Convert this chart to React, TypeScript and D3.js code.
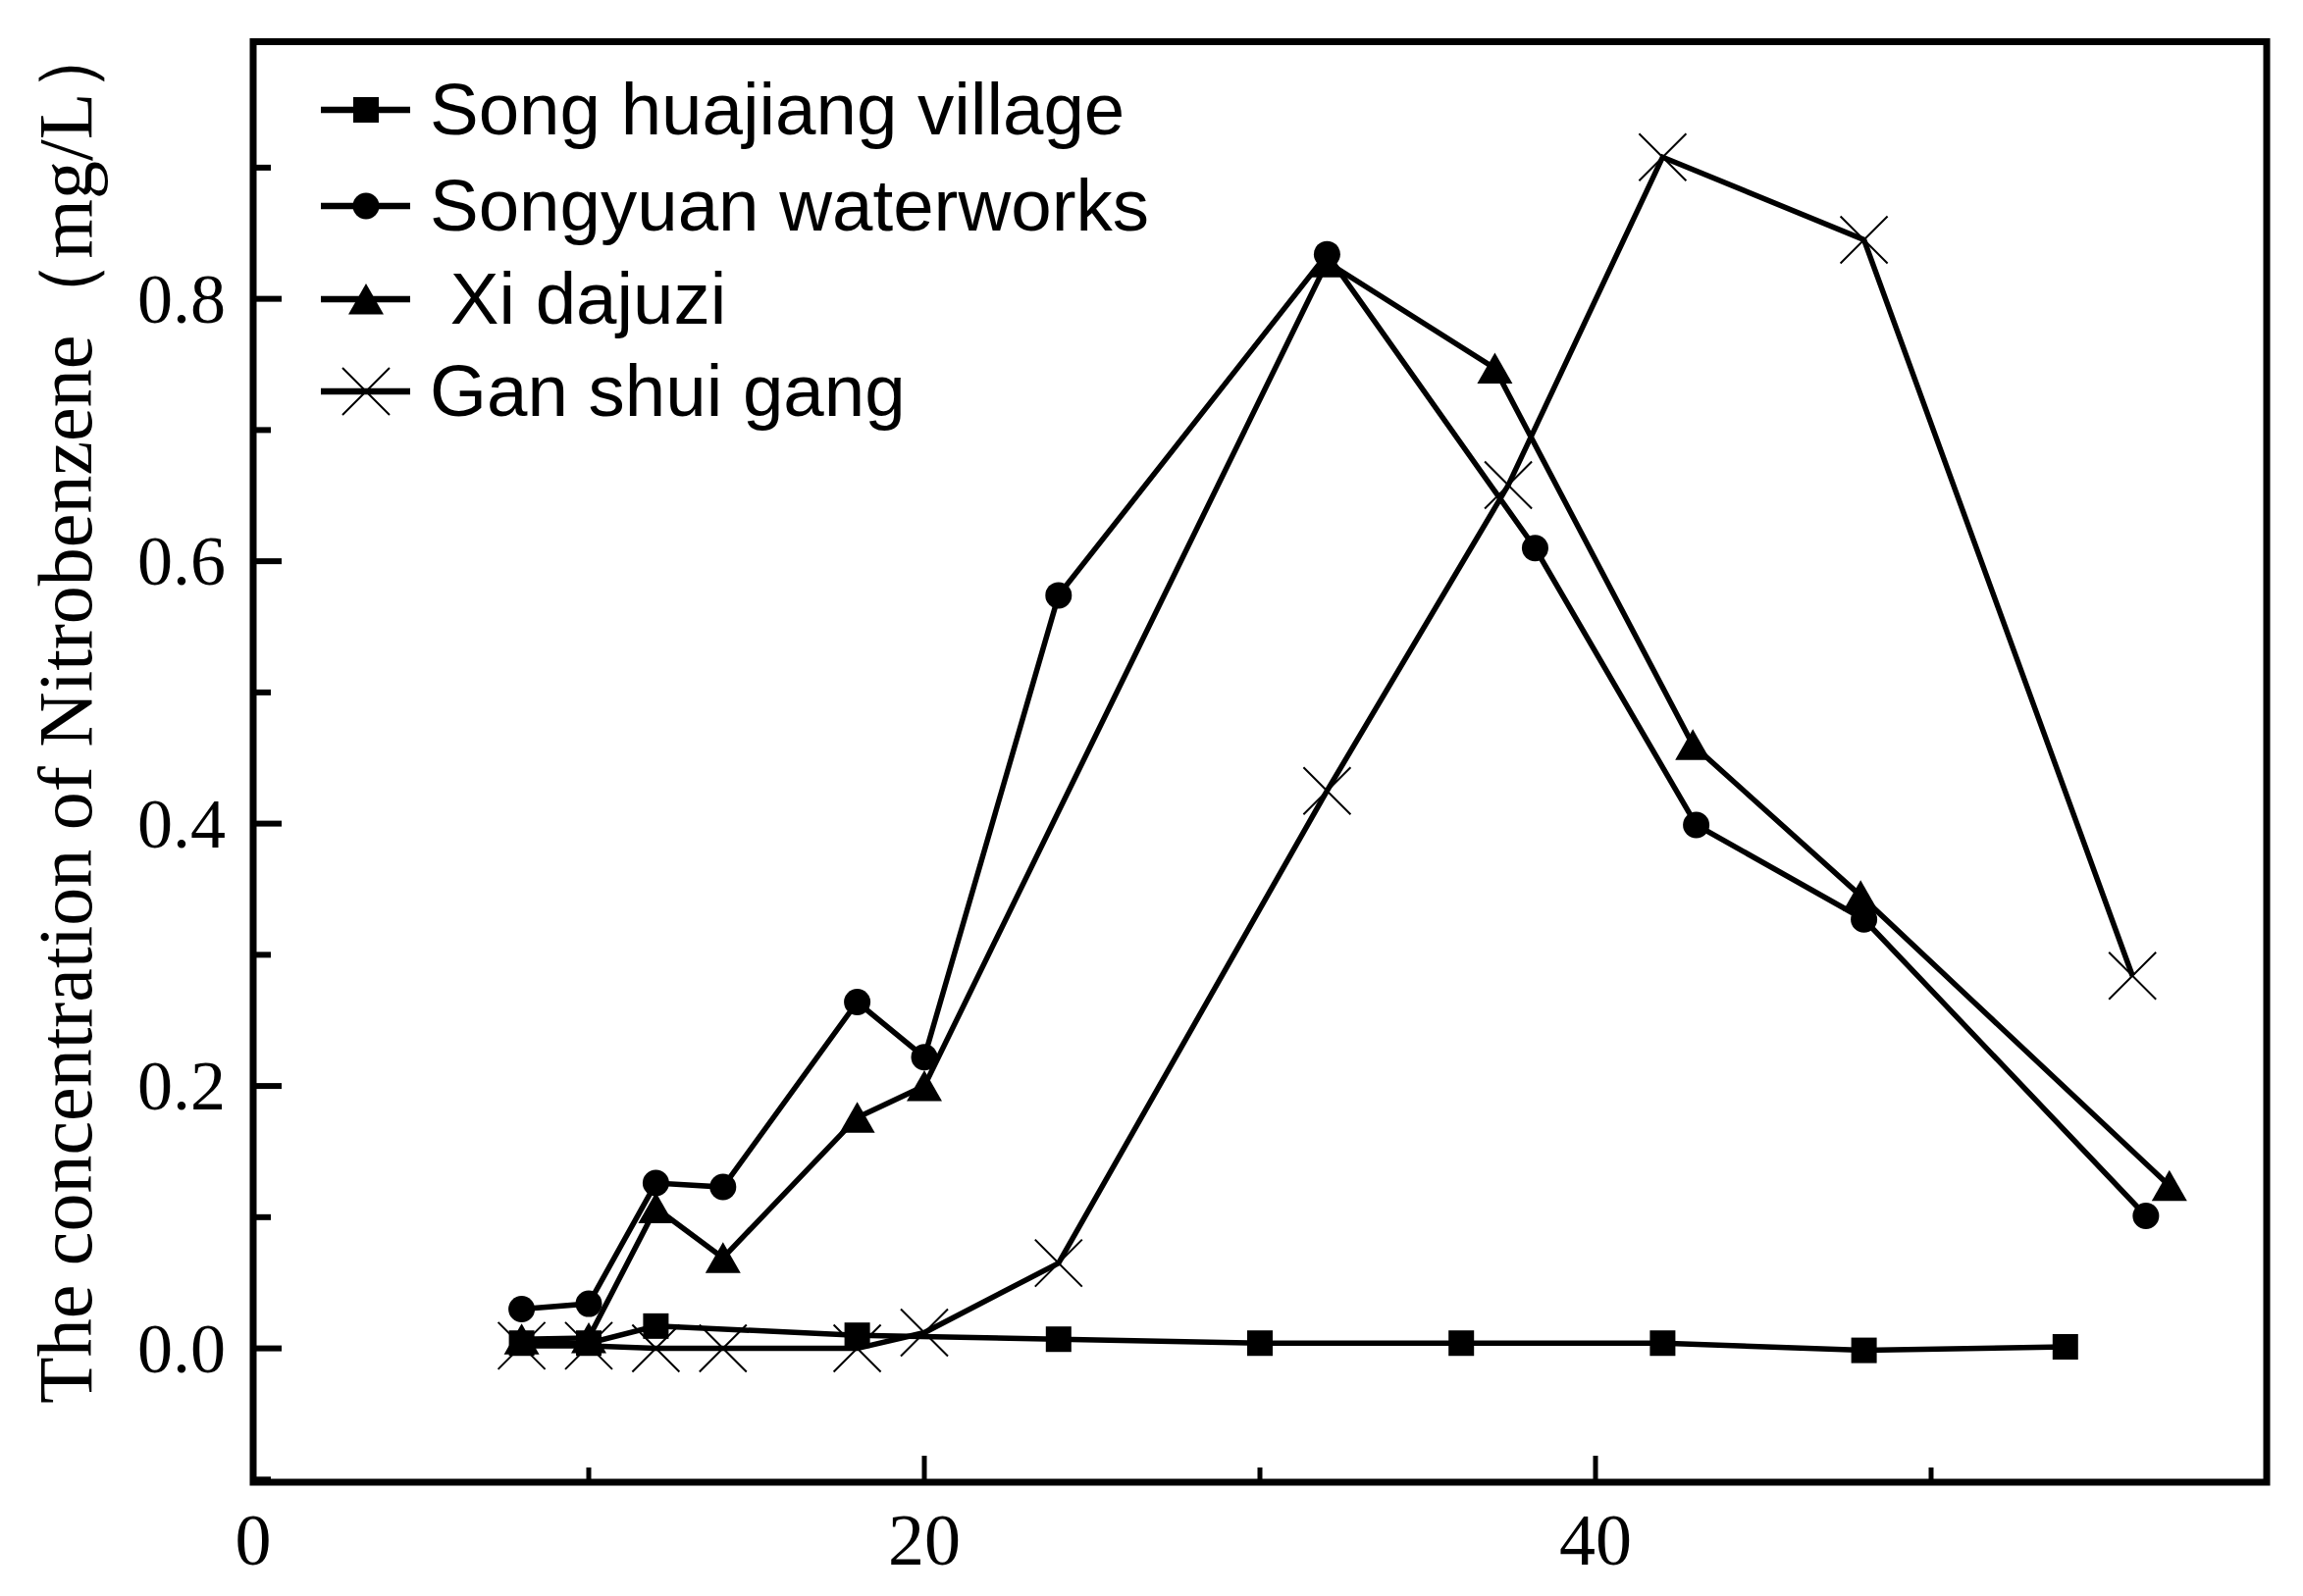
import React from "react";
import * as d3 from "d3";

const W = 2347;
const H = 1627;

const xMajorTicks = [0, 20, 40, 60];
const xMinorTicks = [10, 30, 50];
const xTickLabels = ["0", "20", "40"];
const yMajorTicks = [0, 0.2, 0.4, 0.6, 0.8];
const yMinorTicks = [-0.1, 0.1, 0.3, 0.5, 0.7, 0.9];
const yTickLabels = ["0.0", "0.2", "0.4", "0.6", "0.8"];

const songX = [8, 10, 12, 18, 24, 30, 36, 42, 48, 54];
const songY = [0.004, 0.004, 0.017, 0.01, 0.007, 0.004, 0.004, 0.004, -0.0015, 0.0012];
const songyuanX = [8, 10, 12, 14, 18, 20, 24, 32, 38.2, 43, 48, 56.4];
const songyuanY = [0.03, 0.034, 0.126, 0.123, 0.264, 0.222, 0.574, 0.834, 0.61, 0.399, 0.327, 0.101];
const xiX = [8, 10, 12, 14, 18, 20, 32, 37, 42.9, 47.9, 57.1];
const xiY = [0.007, 0.008, 0.107, 0.069, 0.176, 0.2, 0.828, 0.747, 0.46, 0.345, 0.124];
const ganX = [8, 10, 12, 14, 18, 20, 24, 32, 37.4, 42, 48, 56];
const ganY = [0.002, 0.002, 0, 0, 0, 0.012, 0.065, 0.425, 0.658, 0.908, 0.845, 0.284];

const seriesNames = ["Song huajiang village", "Songyuan waterworks", " Xi dajuzi", "Gan shui gang"];
const seriesMarkers = ["square", "circle", "triangle", "cross"];

const yTitle = "The concentration of Nitrobenzene（mg/L）";

const left = 258;
const right = 2310;
const top = 42.5;
const bottom = 1511;

function Marker({ type, x, y }: { type: string; x: number; y: number }) {
  if (type === "square") {
    return <rect x={x - 13} y={y - 13} width={26} height={26} fill="#000" />;
  }
  if (type === "circle") {
    return <circle cx={x} cy={y} r={13.5} fill="#000" />;
  }
  if (type === "triangle") {
    return (
      <path
        d={`M${x},${y - 16} L${x + 18},${y + 15.5} L${x - 18},${y + 15.5} Z`}
        fill="#000"
      />
    );
  }
  return (
    <path
      d={`M${x - 24},${y - 24} L${x + 24},${y + 24} M${x - 24},${y + 24} L${x + 24},${y - 24}`}
      stroke="#000"
      strokeWidth={2}
      fill="none"
    />
  );
}

export default function App() {
  const xScale = d3.scaleLinear().domain([0, 60]).range([left, right]);
  const yScale = d3.scaleLinear().domain([-0.102, 0.996]).range([bottom, top]);

  const series = [
    { xs: songX, ys: songY, marker: seriesMarkers[0] },
    { xs: songyuanX, ys: songyuanY, marker: seriesMarkers[1] },
    { xs: xiX, ys: xiY, marker: seriesMarkers[2] },
    { xs: ganX, ys: ganY, marker: seriesMarkers[3] },
  ];

  const line = d3
    .line<[number, number]>()
    .x((d) => xScale(d[0]))
    .y((d) => yScale(d[1]));

  const legendRows = [110, 208, 303, 397];

  return (
    <svg
      width={W}
      height={H}
      style={{ position: "absolute", left: 0, top: 0, background: "#fff" }}
    >
      <rect x={0} y={0} width={W} height={H} fill="#fff" />

      {series.map((s, i) => (
        <path
          key={"l" + i}
          d={line(s.xs.map((x, j) => [x, s.ys[j]] as [number, number])) || ""}
          fill="none"
          stroke="#000"
          strokeWidth={5.5}
          strokeLinejoin="miter"
        />
      ))}
      {series.map((s, i) => (
        <g key={"m" + i}>
          {s.xs.map((x, j) => (
            <Marker key={j} type={s.marker} x={xScale(x)} y={yScale(s.ys[j])} />
          ))}
        </g>
      ))}

      <rect
        x={left}
        y={top}
        width={right - left}
        height={bottom - top}
        fill="none"
        stroke="#000"
        strokeWidth={7}
      />

      {xMajorTicks.map((t) => (
        <line
          key={"xM" + t}
          x1={xScale(t)}
          x2={xScale(t)}
          y1={bottom}
          y2={bottom - 27}
          stroke="#000"
          strokeWidth={5}
        />
      ))}
      {xMinorTicks.map((t) => (
        <line
          key={"xm" + t}
          x1={xScale(t)}
          x2={xScale(t)}
          y1={bottom}
          y2={bottom - 15}
          stroke="#000"
          strokeWidth={5}
        />
      ))}
      {xTickLabels.map((lab, i) => (
        <text
          key={"xl" + lab}
          x={xScale(xMajorTicks[i])}
          y={1595}
          textAnchor="middle"
          fontFamily="'Liberation Serif', 'Times New Roman', serif"
          fontSize={74}
          fill="#000"
        >
          {lab}
        </text>
      ))}

      {yMajorTicks.map((t) => (
        <line
          key={"yM" + t}
          x1={left}
          x2={left + 29}
          y1={yScale(t)}
          y2={yScale(t)}
          stroke="#000"
          strokeWidth={6}
        />
      ))}
      {yMinorTicks.map((t) => (
        <line
          key={"ym" + t}
          x1={left}
          x2={left + 18}
          y1={yScale(t)}
          y2={yScale(t)}
          stroke="#000"
          strokeWidth={6}
        />
      ))}
      {yTickLabels.map((lab, i) => (
        <text
          key={"yl" + lab}
          x={230}
          y={yScale(yMajorTicks[i]) + 24}
          textAnchor="end"
          fontFamily="'Liberation Serif', 'Times New Roman', serif"
          fontSize={72}
          fill="#000"
        >
          {lab}
        </text>
      ))}

      <text
        transform={`translate(93, 1431) rotate(-90)`}
        textAnchor="start"
        fontFamily="'Liberation Serif', 'Times New Roman', serif"
        fontSize={78}
        fill="#000"
      >
        {yTitle}
      </text>

      {seriesNames.map((name, i) => (
        <g key={"lg" + i}>
          <line
            x1={327}
            x2={418}
            y1={legendRows[i] + 2}
            y2={legendRows[i] + 2}
            stroke="#000"
            strokeWidth={6.5}
          />
          <Marker type={seriesMarkers[i]} x={373} y={legendRows[i] + 2} />
          <text
            x={438}
            y={legendRows[i] + 27}
            fontFamily="'Liberation Sans', Arial, sans-serif"
            fontSize={74.5}
            fill="#000"
            style={{ whiteSpace: "pre" }}
          >
            {name}
          </text>
        </g>
      ))}
    </svg>
  );
}
